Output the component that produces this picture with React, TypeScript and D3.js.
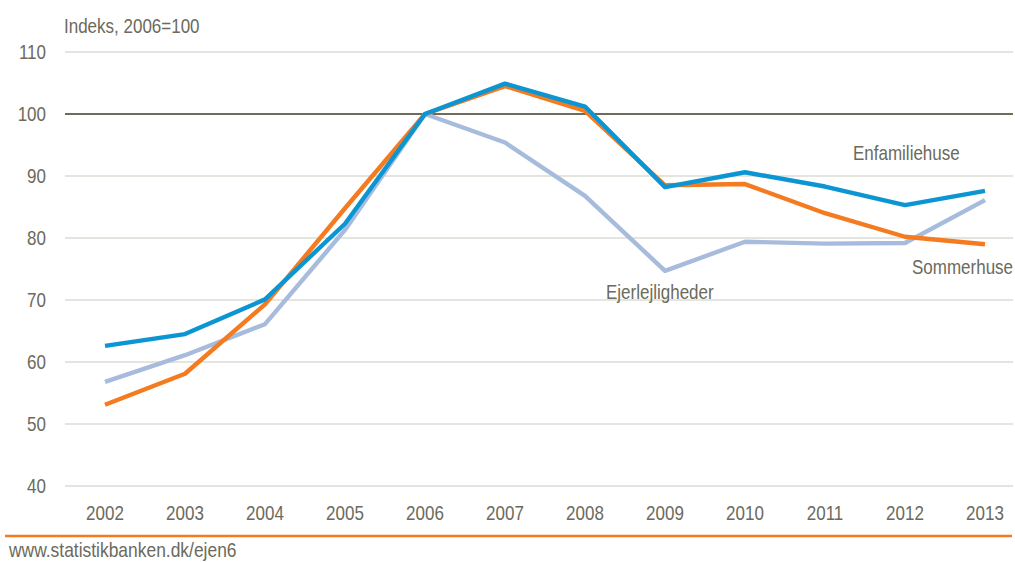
import React from "react";
import * as d3 from "d3";

const years = [2002, 2003, 2004, 2005, 2006, 2007, 2008, 2009, 2010, 2011, 2012, 2013];
const enfamiliehuse = [62.6, 64.5, 70.1, 82.3, 100, 104.9, 101.2, 88.2, 90.6, 88.3, 85.3, 87.6];
const sommerhuse = [53.1, 58.1, 69.3, 84.8, 100, 104.5, 100.5, 88.5, 88.7, 84.0, 80.2, 79.0];
const ejerlejligheder = [56.8, 61.1, 66.1, 81.3, 100, 95.4, 86.8, 74.7, 79.4, 79.1, 79.2, 86.1];
const yTicks = [40, 50, 60, 70, 80, 90, 100, 110];

const W = 1015;
const H = 563;
const FONT = "'Liberation Sans', Arial, sans-serif";
const TXT = "#6b6a5c";
const SX = 0.85;

function T(props: { x: number; y: number; anchor?: string; children: React.ReactNode; size?: number }) {
  return (
    <text
      transform={`translate(${props.x},${props.y}) scale(${SX},1)`}
      textAnchor={props.anchor || "start"}
      fontSize={props.size || 20}
      fill={TXT}
    >
      {props.children}
    </text>
  );
}

export default function App() {
  const x = d3.scalePoint<number>().domain(years).range([105, 985]);
  const y = d3.scaleLinear().domain([40, 110]).range([486, 52]);
  const line = d3
    .line<number>()
    .x((_, i) => x(years[i]) as number)
    .y((d) => y(d));

  const series = [
    { data: ejerlejligheder, color: "#a7bcdc" },
    { data: sommerhuse, color: "#f47b20" },
    { data: enfamiliehuse, color: "#0b96d3" },
  ];

  return (
    <svg
      width={W}
      height={H}
      style={{ position: "absolute", left: 0, top: 0, background: "#fff" }}
      fontFamily={FONT}
    >
      {yTicks.map((t) => (
        <g key={t}>
          <line
            x1={65}
            x2={1013}
            y1={y(t)}
            y2={y(t)}
            stroke={t === 100 ? "#6e6b58" : "#dcdcd4"}
            strokeWidth={t === 100 ? 2 : 1.5}
          />
          <T x={46} y={y(t) + 7} anchor="end">
            {t}
          </T>
        </g>
      ))}
      <T x={64} y={33}>Indeks, 2006=100</T>
      {years.map((yr) => (
        <T key={yr} x={x(yr) as number} y={520} anchor="middle">
          {yr}
        </T>
      ))}
      {series.map((s, i) => (
        <path
          key={i}
          d={line(s.data) || ""}
          fill="none"
          stroke={s.color}
          strokeWidth={4.4}
          strokeLinejoin="round"
        />
      ))}
      <T x={853} y={160}>Enfamiliehuse</T>
      <T x={912} y={274}>Sommerhuse</T>
      <T x={606} y={299}>Ejerlejligheder</T>
      <line x1={5} x2={1012} y1={536} y2={536} stroke="#f47b20" strokeWidth={2.5} />
      <T x={9} y={557} size={20.5}>www.statistikbanken.dk/ejen6</T>
    </svg>
  );
}
